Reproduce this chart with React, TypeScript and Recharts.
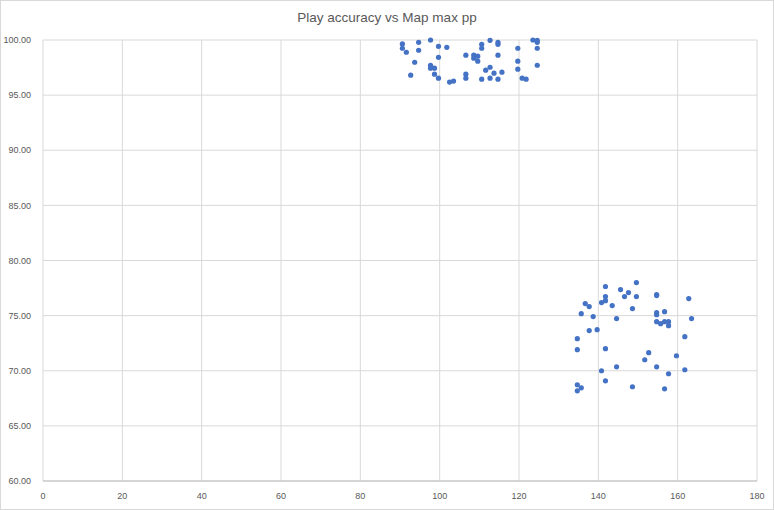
import { ScatterChart, Scatter, XAxis, YAxis, CartesianGrid } from "recharts";

// cluster near 100% accuracy (map max pp ~90-125)
const upperMapPp = [
  90.6, 90.6, 91.6, 94.7, 94.7, 93.7, 92.7, 97.7, 97.7, 97.7, 98.7, 98.7, 99.7, 99.7, 99.7, 101.8,
  102.5, 103.5, 106.6, 106.6, 106.6, 108.6, 108.6, 109.6, 109.6, 110.6, 110.6, 110.6, 111.6, 112.7,
  112.7, 112.7, 113.7, 114.7, 114.7, 114.7, 114.7, 115.7, 119.7, 119.7, 119.7, 120.8, 121.8, 123.5,
  124.6, 124.6, 124.6, 124.6,
];
const upperAccuracy = [
  99.64, 99.25, 98.89, 99.79, 99.07, 97.98, 96.81, 100.0, 97.71, 97.44, 97.44, 96.9, 96.54, 98.43,
  99.43, 99.34, 96.18, 96.27, 98.62, 96.9, 96.54, 98.62, 98.35, 98.53, 98.08, 99.61, 99.25, 96.45,
  97.26, 99.97, 97.53, 96.54, 96.99, 99.79, 99.61, 98.62, 96.45, 97.08, 99.25, 98.08, 97.35, 96.54,
  96.45, 100.0, 99.97, 99.79, 99.25, 97.71,
];

// cluster around 68-78% accuracy (map max pp ~135-164)
const lowerMapPp = [
  141.8, 141.8, 141.8, 140.8, 136.7, 137.7, 135.7, 138.7, 143.5, 144.6, 145.6, 146.6, 147.6, 148.6,
  149.6, 149.6, 154.7, 154.7, 154.7, 154.7, 154.7, 155.7, 156.7, 156.7, 157.7, 157.7, 162.8, 163.5,
  161.8, 137.7, 139.7, 134.7, 134.7, 141.8, 152.7, 151.7, 159.7, 144.6, 154.7, 140.8, 161.8, 157.7,
  141.8, 134.7, 135.7, 134.7, 148.6, 156.7,
];
const lowerAccuracy = [
  77.64, 76.73, 76.36, 76.18, 76.09, 75.82, 75.18, 74.91, 75.91, 74.73, 77.36, 76.73, 77.09, 75.64,
  78.0, 76.73, 76.91, 76.82, 75.27, 75.09, 74.45, 74.27, 75.36, 74.45, 74.45, 74.09, 76.55, 74.73,
  73.09, 73.64, 73.73, 72.91, 71.91, 72.0, 71.64, 71.0, 71.36, 70.36, 70.36, 70.0, 70.09, 69.73,
  69.09, 68.73, 68.45, 68.18, 68.55, 68.36,
];

const xTicks = [0, 20, 40, 60, 80, 100, 120, 140, 160, 180];
const yTicks = [60, 65, 70, 75, 80, 85, 90, 95, 100];

const plays = [
  ...upperMapPp.map((pp, i) => ({ pp, acc: upperAccuracy[i] })),
  ...lowerMapPp.map((pp, i) => ({ pp, acc: lowerAccuracy[i] })),
];

const font = "'Liberation Sans', Arial, sans-serif";
const tickStyle = { fill: "#595959", fontSize: 9, fontFamily: font };

export default function App() {
  return (
    <div
      style={{
        position: "fixed",
        top: 0,
        left: 0,
        width: 774,
        height: 510,
        background: "#fff",
        boxSizing: "border-box",
        border: "1px solid #d9d9d9",
      }}
    >
      <div
        style={{
          position: "absolute",
          top: 9,
          width: "100%",
          textAlign: "center",
          fontFamily: font,
          fontSize: 13.5,
          color: "#595959",
        }}
      >
        Play accuracy vs Map max pp
      </div>
      <ScatterChart
        width={772}
        height={508}
        margin={{ top: 39, right: 16, bottom: 0, left: 0 }}
        style={{ position: "absolute", top: 0, left: 0 }}
      >
        <CartesianGrid stroke="#d9d9d9" />
        <XAxis
          type="number"
          dataKey="pp"
          domain={[0, 180]}
          ticks={xTicks}
          interval={0}
          stroke="#bfbfbf"
          tickLine={false}
          tick={tickStyle}
          tickMargin={6}
          height={28}
        />
        <YAxis
          type="number"
          dataKey="acc"
          domain={[60, 100]}
          ticks={yTicks}
          interval={0}
          axisLine={false}
          tickLine={false}
          tick={tickStyle}
          tickFormatter={(v: number) => v.toFixed(2)}
          width={42}
          tickMargin={6}
        />
        <Scatter
          data={plays}
          fill="#4472c4"
          isAnimationActive={false}
          shape={(p: any) => <circle cx={p.cx} cy={p.cy} r={2.6} fill="#4472c4" />}
        />
      </ScatterChart>
    </div>
  );
}
